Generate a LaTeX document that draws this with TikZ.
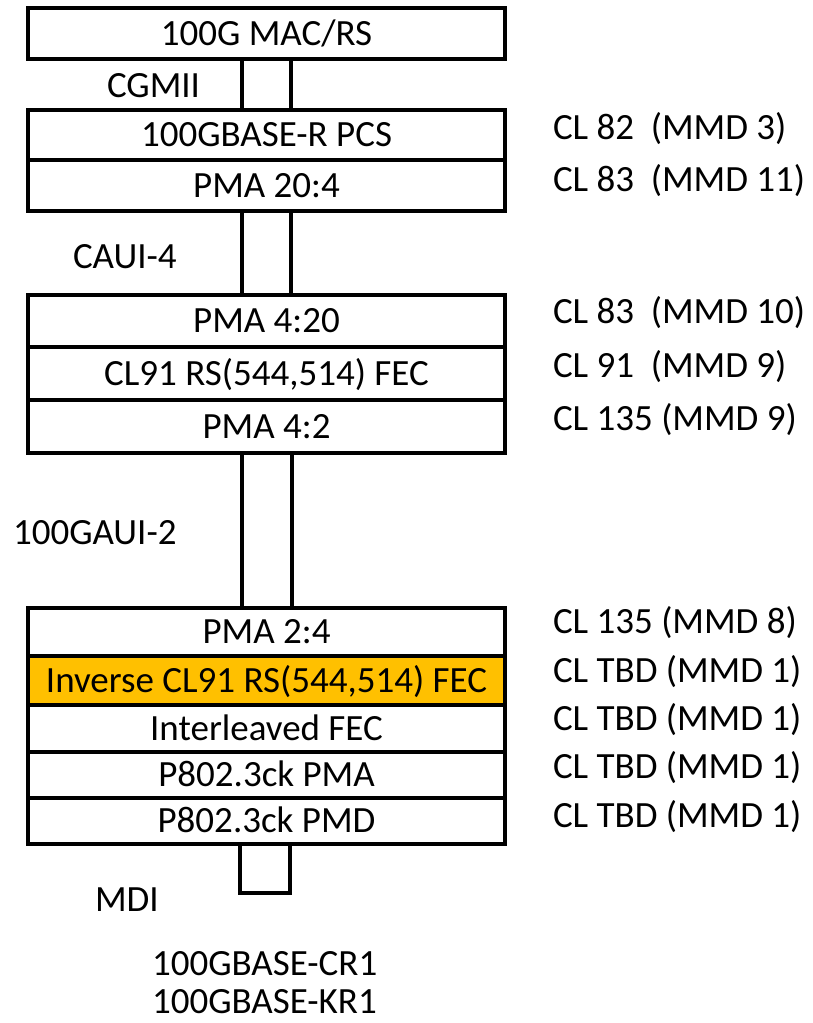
\documentclass[tikz,border=0pt]{standalone}
\usepackage{fontspec}
\setmainfont{Carlito}
\definecolor{fecorange}{HTML}{FFC000}
\begin{document}
\begin{tikzpicture}[x=1pt,y=-1pt,
  blk/.style={draw=black, line width=3.3pt, fill=white, minimum width=477pt,
    inner sep=0pt, outer sep=0pt, text height=23.4pt, text depth=0pt,
    font=\fontsize{37}{40}\selectfont},
  conn/.style={draw=black, line width=3.3pt},
  lbl/.style={inner sep=0pt, outer sep=0pt, font=\fontsize{37}{40}\selectfont}]
\useasboundingbox (0,0) rectangle (813,1023);
% connectors (drawn first, boxes cover their ends)
\coordinate (c1t) at (242,59);  \coordinate (c1b) at (291,110);
\coordinate (c2t) at (242,211); \coordinate (c2b) at (291,295);
\coordinate (c3t) at (242,453); \coordinate (c3b) at (292,608);
\coordinate (c4t) at (240,844); \coordinate (c4b) at (290,893);
\draw[conn] (c1t) rectangle (c1b);
\draw[conn] (c2t) rectangle (c2b);
\draw[conn] (c3t) rectangle (c3b);
\draw[conn] (c4t) rectangle (c4b);
% boxes
\node[blk, minimum height=51pt] (mac) at (266.5,33.5) {100G MAC/RS};
\node[blk, minimum height=50pt] (pcs) at (266.5,135) {100GBASE-R PCS};
\node[blk, minimum height=51pt] (pmaA) at (266.5,185.5) {PMA 20:4};
\node[blk, minimum height=52pt] (pmaB) at (266.5,321) {PMA 4:20};
\node[blk, minimum height=53pt] (fec) at (266.5,373.5) {CL91 RS(544,514) FEC};
\node[blk, minimum height=53pt] (pmaC) at (266.5,426.5) {PMA 4:2};
\node[blk, minimum height=48pt] (pmaD) at (266.5,632) {PMA 2:4};
\node[blk, minimum height=49pt, fill=fecorange] (inv) at (266.5,680.5) {Inverse CL91 RS(544,514) FEC};
\node[blk, minimum height=47pt] (ilv) at (266.5,728.5) {Interleaved FEC};
\node[blk, minimum height=46pt] (pma) at (266.5,775) {P802.3ck PMA};
\node[blk, minimum height=46pt] (pmd) at (266.5,821) {P802.3ck PMD};
% interface labels
\node[lbl, anchor=base west] (cgmii) at (107,97) {CGMII};
\node[lbl, anchor=base west] (caui) at (73,268) {CAUI-4};
\node[lbl, anchor=base west] (gaui) at (13,544) {100GAUI-2};
\node[lbl, anchor=base west] (mdi) at (95,911) {MDI};
\node[lbl, anchor=base west] (cr1) at (152,975) {100GBASE-CR1};
\node[lbl, anchor=base west] (kr1) at (152,1013) {100GBASE-KR1};
% clause labels
\node[lbl, anchor=base west] (r1) at (553,139) {CL 82\ \ (MMD 3)};
\node[lbl, anchor=base west] (r2) at (553,191) {CL 83\ \ (MMD 11)};
\node[lbl, anchor=base west] (r3) at (553,323) {CL 83\ \ (MMD 10)};
\node[lbl, anchor=base west] (r4) at (553,377) {CL 91\ \ (MMD 9)};
\node[lbl, anchor=base west] (r5) at (553,430) {CL 135 (MMD 9)};
\node[lbl, anchor=base west] (r6) at (553,633) {CL 135 (MMD 8)};
\node[lbl, anchor=base west] (r7) at (553,682) {CL TBD (MMD 1)};
\node[lbl, anchor=base west] (r8) at (553,730) {CL TBD (MMD 1)};
\node[lbl, anchor=base west] (r9) at (553,778) {CL TBD (MMD 1)};
\node[lbl, anchor=base west] (r10) at (553,827) {CL TBD (MMD 1)};
\end{tikzpicture}
\end{document}
